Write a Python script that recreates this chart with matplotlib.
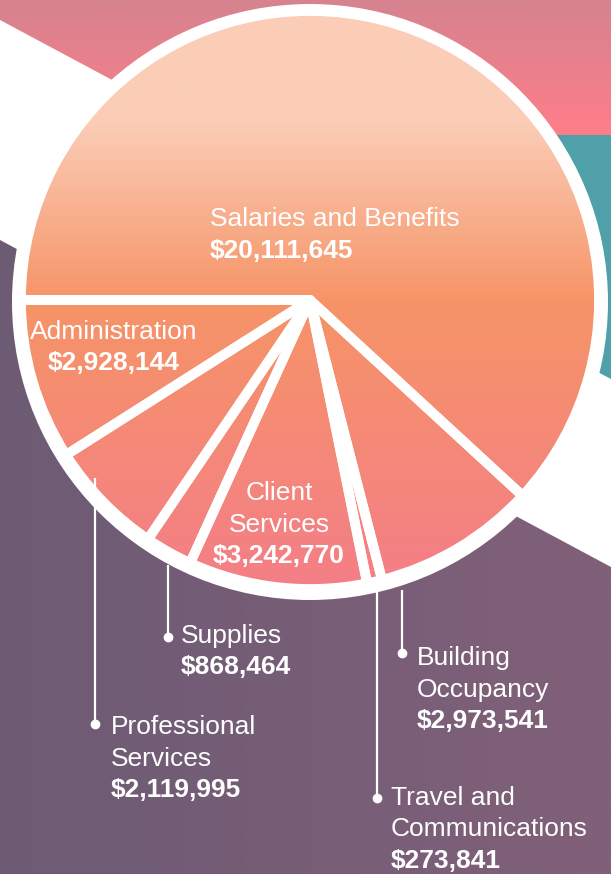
import numpy as np
import matplotlib.pyplot as plt
from matplotlib.colors import LinearSegmentedColormap
from matplotlib.patches import Polygon, Circle

W, H = 611, 874

# datos del gráfico (orden de los sectores, en sentido horario desde la izquierda)
categorias = ["Salaries and Benefits", "Building\nOccupancy", "Travel and\nCommunications",
              "Client\nServices", "Supplies", "Professional\nServices", "Administration"]
montos = [20111645, 2973541, 273841, 3242770, 868464, 2119995, 2928144]

# posicion de cada etiqueta en pixeles: x, linea base de la primera linea, alineacion
pos_etiquetas = [(210, 226, 'left'), (417, 665, 'left'), (391, 805, 'left'),
                 (279, 500, 'center'), (181, 643, 'left'), (111, 734, 'left'),
                 (114, 339, 'center')]
# lineas guia: x, y arriba, y del punto (None si la etiqueta va dentro del sector)
guias = [None, (402, 590, 653), (377, 588, 798), None, (168, 565, 637), (95, 478, 724), None]

fs = 19
salto = 31.5


def relleno(ax, clip, colores, pos, vertical=True, z=1):
    cmap = LinearSegmentedColormap.from_list('g', list(zip(pos, colores)))
    g = np.linspace(0, 1, 600)
    arr = g[:, None] if vertical else g[None, :]
    im = ax.imshow(arr, cmap=cmap, vmin=0, vmax=1, extent=(0, W, H, 0),
                   aspect='auto', zorder=z, interpolation='bilinear')
    im.set_clip_path(clip)
    return im


fig = plt.figure(figsize=(W / 100, H / 100), dpi=100)
fig.patch.set_facecolor('white')
ax = fig.add_axes([0, 0, 1, 1])

# fondo: banda rosada arriba, teal a la derecha, morado abajo
rosa = Polygon([(0, 0), (W, 0), (W, 135), (215, 135), (0, 20)], closed=True,
               facecolor='none', edgecolor='none')
ax.add_patch(rosa)
relleno(ax, rosa, ['#d6838f', '#ff7e89', '#ff7e89'], [0, 135 / H, 1], z=0.5)

teal = Polygon([(300, 135), (W, 135), (W, 379), (300, 216)], closed=True,
               facecolor='#50a0aa', edgecolor='none', zorder=0.6)
ax.add_patch(teal)

morado = Polygon([(0, 240), (W, 567), (W, H), (0, H)], closed=True,
                 facecolor='none', edgecolor='none')
ax.add_patch(morado)
relleno(ax, morado, ['#6d5b74', '#816079'], [0, 1], vertical=False, z=0.7)

# anillo blanco exterior
ax.add_patch(Circle((310, 302), 298, facecolor='white', edgecolor='none', zorder=2))

# pie (eje y invertido -> counterclock=True se ve en sentido horario)
wedges, _ = ax.pie(montos, startangle=180, counterclock=True, center=(310, 300), radius=289,
                   wedgeprops=dict(facecolor='none', edgecolor='white', linewidth=7,
                                   joinstyle='round'))
for w in wedges:
    w.set_zorder(4)
    relleno(ax, w, ['#fbceb8', '#fbcdb7', '#f69467', '#f47e88', '#f47e88'],
            [0, 120 / H, 300 / H, 590 / H, 1], z=3)

# etiquetas
for nombre, monto, (x, y, ha), guia in zip(categorias, montos, pos_etiquetas, guias):
    lineas = nombre.split("\n")
    for i, linea in enumerate(lineas):
        ax.text(x, y + i * salto, linea, color='white', fontsize=fs, ha=ha, va='baseline',
                family=['Liberation Sans', 'DejaVu Sans'], zorder=6)
    ax.text(x, y + len(lineas) * salto, f"${monto:,}", color='white', fontsize=fs,
            fontweight='bold', ha=ha, va='baseline',
            family=['Liberation Sans', 'DejaVu Sans'], zorder=6)
    if guia:
        gx, y0, y1 = guia
        ax.plot([gx, gx], [y0, y1], color='white', lw=1.6, zorder=5, solid_capstyle='butt')
        ax.plot(gx, y1, 'o', color='white', ms=6, zorder=5)

ax.set_xlim(0, W)
ax.set_ylim(H, 0)
ax.set_aspect('auto')
ax.axis('off')

plt.savefig('out.png', dpi=100)
